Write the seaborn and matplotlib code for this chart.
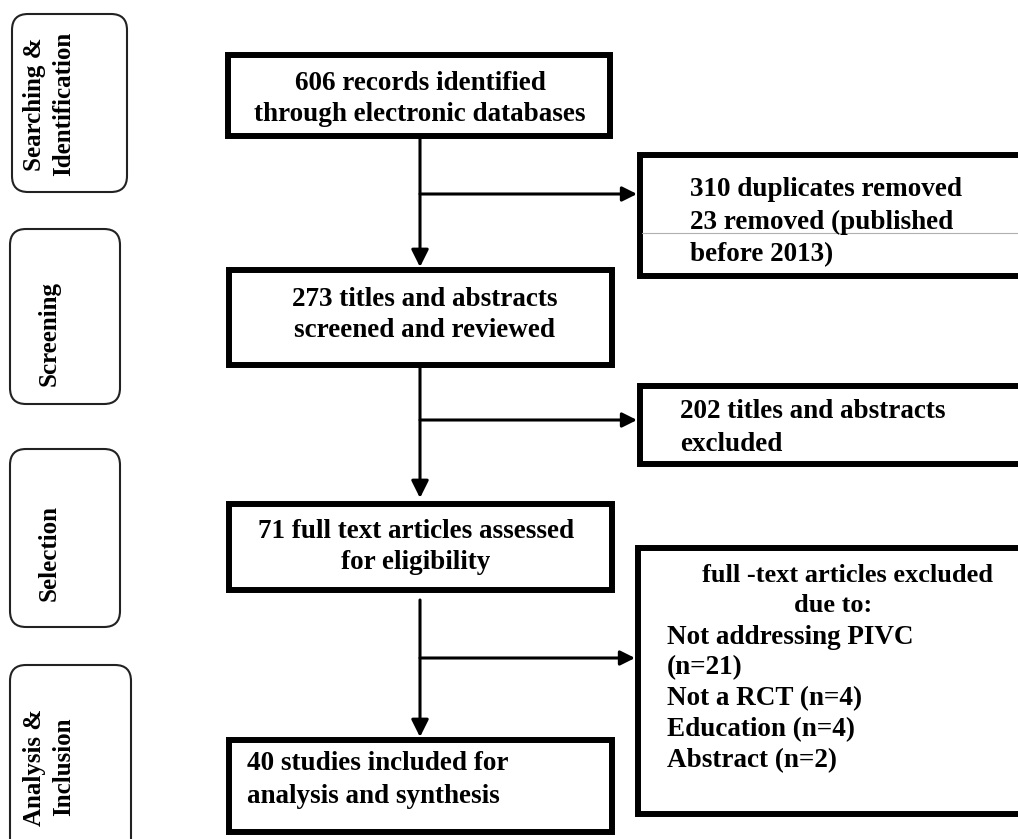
# PRISMA flow diagram (study selection)

import matplotlib
matplotlib.use("Agg")
import matplotlib.pyplot as plt
from matplotlib.patches import Rectangle, FancyBboxPatch
import seaborn as sns

# 1. Flow data

stages = ["Searching &\nIdentification", "Screening", "Selection", "Analysis &\nInclusion"]
n_identified = 606
n_duplicates = 310
n_before_2013 = 23
n_screened = 273
n_abstracts_excluded = 202
n_full_text = 71
reason_labels = ["Not addressing PIVC", "Not a RCT", "Education", "Abstract"]
reason_counts = [21, 4, 4, 2]
n_included = 40

sns.set_theme(style="white")
plt.rcParams["font.family"] = ["Liberation Serif", "DejaVu Serif"]
plt.rcParams["font.weight"] = "bold"
plt.rcParams["text.color"] = "black"

fig = plt.figure(figsize=(10.18, 8.39), dpi=100)
ax = fig.add_axes([0, 0, 1, 1])
ax.set_xlim(0, 1018)
ax.set_ylim(839, 0)
ax.axis("off")

FS = 19.5
BOX_LW = 4.3
LINE_LW = 2.2
CX = 420


def box(x0, y0, x1, y1, lw=BOX_LW):
    ax.add_patch(Rectangle((x0, y0), x1 - x0, y1 - y0, fill=False,
                           ec="black", lw=lw, joinstyle="miter"))


def open_box(x0, y0, y1, lw=BOX_LW):
    # right-hand boxes run off the edge of the picture
    ax.plot([1040, x0, x0, 1040], [y0, y0, y1, y1], color="black", lw=lw,
            solid_joinstyle="miter", solid_capstyle="butt")


def stage_box(x0, y0, x1, y1):
    ax.add_patch(FancyBboxPatch((x0, y0), x1 - x0, y1 - y0,
                                boxstyle="round,pad=0,rounding_size=16",
                                fill=False, ec="#222222", lw=1.5))


def arrow(x0, y0, x1, y1, scale=26):
    ax.annotate("", xy=(x1, y1), xytext=(x0, y0),
                arrowprops=dict(arrowstyle="-|>", color="black", lw=LINE_LW,
                                mutation_scale=scale, shrinkA=0, shrinkB=0))


# 2. Stage labels on the left
stage_boxes = [(12, 14, 127, 192), (10, 229, 120, 404), (10, 449, 120, 627), (10, 665, 131, 880)]
stage_text_y = [104, 334, 553, 767]
for (x0, y0, x1, y1), label, ty in zip(stage_boxes, stages, stage_text_y):
    stage_box(x0, y0, x1, y1)
    ax.text(49, ty, label, rotation=90, ha="center", va="center",
            multialignment="center", fontsize=18, fontweight="bold", linespacing=1.35)

# 3. Main column
box(228, 55, 610, 136)
ax.text(420, 99, f"{n_identified} records identified\nthrough electronic databases",
        ha="center", va="center", fontsize=FS, linespacing=1.36)

box(229, 270, 612, 365)
ax.text(425, 315, f"{n_screened} titles and abstracts\nscreened and reviewed",
        ha="center", va="center", fontsize=FS, linespacing=1.28)

box(229, 504, 612, 590)
ax.text(416, 547, f"{n_full_text} full text articles assessed\nfor eligibility",
        ha="center", va="center", fontsize=FS, linespacing=1.28)

box(229, 740, 612, 832)
ax.text(247, 780, f"{n_included} studies included for\nanalysis and synthesis",
        ha="left", va="center", fontsize=FS, linespacing=1.45)

# 4. Exclusion boxes on the right
open_box(640, 155, 276)
ax.plot([642, 1018], [233, 233], color="#b0b0b0", lw=0.8)
ax.text(690, 222, f"{n_duplicates} duplicates removed\n{n_before_2013} removed (published\nbefore 2013)",
        ha="left", va="center", fontsize=FS, linespacing=1.38)

open_box(640, 386, 464)
ax.text(680, 428, f"{n_abstracts_excluded} titles and abstracts\nexcluded",
        ha="left", va="center", fontsize=FS, linespacing=1.4)

open_box(638, 548, 814)
ax.text(848, 575, "full -text articles excluded", ha="center", va="center", fontsize=19)
ax.text(833, 605, "due to:", ha="center", va="center", fontsize=19)
reason_lines = []
for lab, n in zip(reason_labels, reason_counts):
    sep = "\n" if len(lab) > 15 else " "
    reason_lines.append(f"{lab}{sep}(n={n})")
ax.text(667, 699, "\n".join(reason_lines), ha="left", va="center",
        fontsize=FS, linespacing=1.31)

# 5. Connectors
arrow(CX, 139, CX, 267)
arrow(CX, 194, 637, 194, scale=22)
arrow(CX, 368, CX, 498)
arrow(CX, 420, 637, 420, scale=22)
arrow(CX, 600, CX, 737)
arrow(CX, 658, 635, 658, scale=22)

fig.savefig("out.png", dpi=100, facecolor="white")
